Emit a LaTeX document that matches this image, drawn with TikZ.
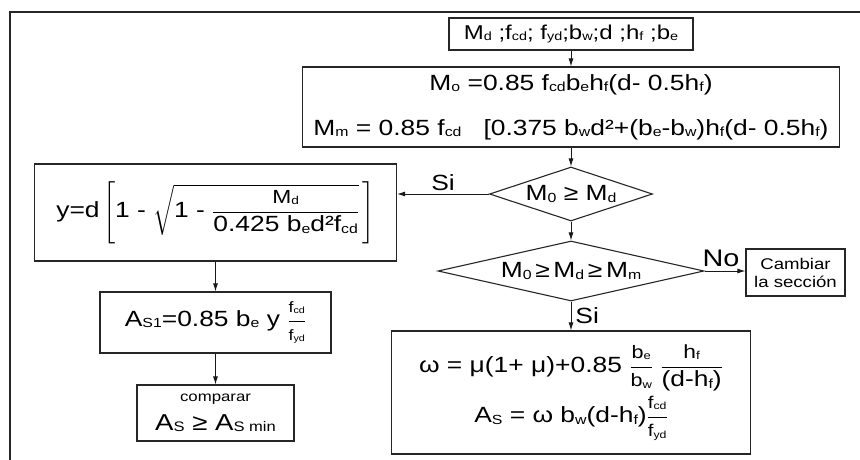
\documentclass[tikz,border=0pt]{standalone}
\usepackage{amsmath}
\usepackage{graphicx}
\usepackage{fontspec}
\setmainfont[FakeStretch=1.2]{Liberation Sans}
\usetikzlibrary{shapes.geometric,arrows.meta}
\newcommand{\lo}[1]{\raisebox{-0.12ex}{\scalebox{0.6}{#1}}}
\newcommand{\tx}[1]{\text{#1}}
\tikzset{
  box/.style={draw=black!85, line width=1.1pt, inner sep=0pt, align=center, font=\fontsize{22}{26}\selectfont},
  dia/.style={draw=black!85, line width=1.1pt, shape=diamond, inner sep=0pt, font=\fontsize{22}{26}\selectfont},
  arr/.style={-{Latex[length=8pt,width=5pt]}, line width=0.9pt, draw=black!90},
  lab/.style={font=\fontsize{22}{26}\selectfont, inner sep=0pt}
}
\begin{document}
\begin{tikzpicture}[x=1pt,y=-1pt]
\useasboundingbox (0,0) rectangle (860,460);
\fill[white] (0,0) rectangle (860,460);
\draw[line width=1.2pt, black!85] (10,460) -- (10,12) -- (860,12);

\node[box, minimum width=244pt, minimum height=32pt, font=\fontsize{20}{24}\selectfont] (in) at (571,34)
  {M\lo{d} ;f\lo{cd}; f\lo{yd};b\lo{w};d ;h\lo{f} ;b\lo{e}};

\node[box, minimum width=537pt, minimum height=80pt, font=\fontsize{22}{45}\selectfont] (form) at (571,107)
  {M\lo{o} =0.85 f\lo{cd}b\lo{e}h\lo{f}(d- 0.5h\lo{f})\\
   M\lo{m} = 0.85 f\lo{cd} \ \ [0.375 b\lo{w}d²+(b\lo{e}-b\lo{w})h\lo{f}(d- 0.5h\lo{f})};

\node[dia, minimum width=163pt, minimum height=54pt, aspect=3] (d1) at (571,194)
  {M\lo{0} ≥ M\lo{d}};

\node[box, minimum width=362pt, minimum height=97pt] (yb) at (215.5,212.5)
  {$\displaystyle \tx{y=d}\left[\tx{1 - }\sqrt{\tx{1 - }\frac{\tx{\fontsize{19}{21}\selectfont M\lo{d}}}{\tx{0.425 b\lo{e}d²f\lo{cd}}}}\,\right]$};

\node[box, minimum width=231pt, minimum height=61pt] (as1) at (215.5,322.5)
  {A\lo{S1}=0.85 b\lo{e} y $\dfrac{\tx{\fontsize{15}{17}\selectfont f\lo{cd}}}{\tx{\fontsize{15}{17}\selectfont f\lo{yd}}}$};

\node[box, minimum width=157pt, minimum height=56pt, font=\fontsize{23}{27}\selectfont] (cmp) at (215.5,413)
  {{\fontsize{14}{16}\selectfont comparar}\\[2pt] A\lo{S} ≥ A\lo{S min}};

\node[dia, minimum width=266pt, minimum height=60pt, aspect=4.5] (d2) at (571,271)
  {M\lo{0}\,≥\,M\lo{d}\,≥\,M\lo{m}};

\node[box, minimum width=99pt, minimum height=47pt, font=\fontsize{15.5}{18}\selectfont] (camb) at (795.5,272.5)
  {Cambiar\\la sección};

\node[box, minimum width=359pt, minimum height=123pt] (bot) at (571,392.5)
  {ω = μ(1+ μ)+0.85 $\dfrac{\tx{\fontsize{18}{20}\selectfont b\lo{e}}}{\tx{\fontsize{18}{20}\selectfont b\lo{w}}}$\ $\dfrac{\tx{\fontsize{19}{21}\selectfont h\lo{f}}}{\tx{(d-h\lo{f})}}$\\[4pt]
   A\lo{S} = ω b\lo{w}(d-h\lo{f})$\dfrac{\tx{\fontsize{17}{19}\selectfont f\lo{cd}}}{\tx{\fontsize{17}{19}\selectfont f\lo{yd}}}$};

\draw[arr] (in) -- (form);
\draw[arr] (form) -- (d1);
\draw[arr] (d1.west) -- (d1.west -| yb.east) node[lab, pos=0.5, above=3pt] (si1) {Si};
\draw[arr] (yb) -- (as1);
\draw[arr] (as1) -- (cmp);
\draw[arr] (d1) -- (d2);
\draw[arr] (d2.east) -- (d2.east -| camb.west) node[lab, pos=0.4, above=4pt, font=\fontsize{24}{28}\selectfont] (no) {No};
\draw[arr] (d2) -- (bot) node[lab, pos=0.5, right=4pt] (si2) {Si};
\end{tikzpicture}
\end{document}
